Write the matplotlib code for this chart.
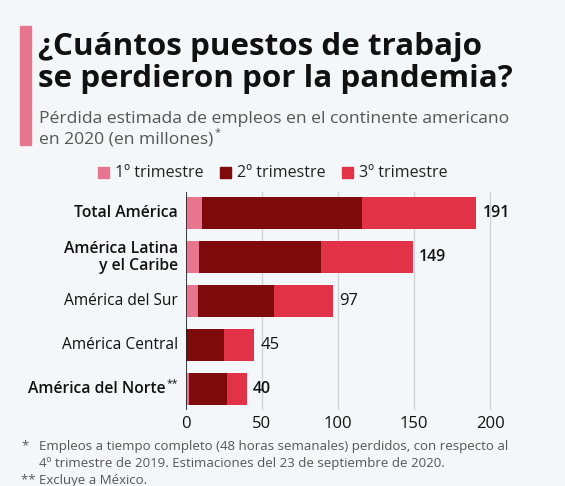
import numpy as np
import matplotlib.pyplot as plt
from matplotlib.patches import Rectangle
from matplotlib import transforms

# --- DATOS ---
regiones = ["Total América", "América Latina\ny el Caribe", "América del Sur",
            "América Central", "América del Norte"]
negrita = [True, True, False, False, True]
q1 = [11, 9, 8, 0.5, 2]
q2 = [105, 80, 50, 24.5, 25]
q3 = [75, 60, 39, 20, 13]
totales = [191, 149, 97, 45, 40]
series = ["1º trimestre", "2º trimestre", "3º trimestre"]
colores = ["#e8758e", "#7e0a0c", "#e23248"]
ticks_x = [0, 50, 100, 150, 200]

FONDO = "#f4f7fa"
GRIS = "#555555"
plt.rcParams['font.family'] = ['Open Sans', 'DejaVu Sans']

fig = plt.figure(figsize=(5.65, 4.86), dpi=100, facecolor=FONDO)
W, H = 565, 486

def fx(px):
    return px / W

def fy(py):
    return 1 - py / H

# barra rosa del título
fig.patches.append(Rectangle((fx(20), fy(145)), fx(11), 119 / H,
                             transform=fig.transFigure, color="#e8758e", zorder=1))

fig.text(fx(38), fy(55), "¿Cuántos puestos de trabajo", fontsize=22.6, fontweight='bold',
         color="#111111", va='baseline')
fig.text(fx(38), fy(87), "se perdieron por la pandemia?", fontsize=22.6, fontweight='bold',
         color="#111111", va='baseline')
fig.text(fx(39), fy(123), "Pérdida estimada de empleos en el continente americano",
         fontsize=12.6, color=GRIS, va='baseline')
sub2 = fig.text(fx(39), fy(144), "en 2020 (en millones)", fontsize=12.6, color=GRIS, va='baseline')
# asterisco pegado al final del subtítulo
fig.canvas.draw()
bb = sub2.get_window_extent()
fig.text((bb.x1 + 1) / W, fy(135), "*", fontsize=8, color=GRIS, va='baseline')

# leyenda manual
leg_x = [98, 220, 342]
for x0, nombre, c in zip(leg_x, series, colores):
    fig.patches.append(Rectangle((fx(x0), fy(178)), fx(11), 11 / H,
                                 transform=fig.transFigure, color=c))
    fig.text(fx(x0 + 17), fy(172.5), nombre, fontsize=11.5, color="#222222", va='center')

# --- GRÁFICO ---
ax = fig.add_axes([fx(185.7), fy(410), fx(513 - 185.7), (410 - 191.7) / H])
ax.set_facecolor(FONDO)
y = np.arange(len(regiones))
alto = 0.72
ax.barh(y, q1, height=alto, color=colores[0], zorder=3)
ax.barh(y, q2, left=q1, height=alto, color=colores[1], zorder=3)
ax.barh(y, q3, left=np.array(q1) + np.array(q2), height=alto, color=colores[2], zorder=3)

for i, tot in enumerate(totales):
    ax.text(tot + 4, i, f"{tot}", va='center', ha='left',
            fontsize=11.5 if negrita[i] else 12,
            fontweight='semibold' if negrita[i] else 'normal', color="#111111")

ax.set_xlim(0, 215)
ax.set_ylim(4.47, -0.49)
ax.set_xticks(ticks_x)
ax.set_xticklabels([str(v) for v in ticks_x], fontsize=12, color="#111111")
ax.tick_params(axis='x', length=0, pad=4)
ax.set_yticks([])
for s in ax.spines.values():
    s.set_visible(False)
ax.grid(axis='x', color="#cfd3d8", linewidth=1, zorder=0)
ax.axvline(0, color="#222222", linewidth=1.2, zorder=4)

# etiquetas de categoría
trans = transforms.blended_transform_factory(fig.transFigure, ax.transData)
for i, nombre in enumerate(regiones):
    peso = 'semibold' if negrita[i] else 'normal'
    tam = 11.3 if negrita[i] else 11.2
    if i == 4:
        ax.text(fx(166), i, nombre, transform=trans, ha='right', va='center',
                fontsize=tam, fontweight=peso, color="#111111")
        ax.text(fx(166.5), i - 0.12, "**", transform=trans, ha='left', va='center',
                fontsize=7.5, color="#111111")
    else:
        ax.text(fx(178), i, nombre, transform=trans, ha='right', va='center',
                fontsize=tam, fontweight=peso, color="#111111", linespacing=1.05)

# notas al pie
fig.text(fx(21), fy(446), "*", fontsize=9.5, color=GRIS, va='center')
fig.text(fx(39), fy(446), "Empleos a tiempo completo (48 horas semanales) perdidos, con respecto al",
         fontsize=9.5, color=GRIS, va='center')
fig.text(fx(39), fy(463), "4º trimestre de 2019. Estimaciones del 23 de septiembre de 2020.",
         fontsize=9.5, color=GRIS, va='center')
fig.text(fx(21), fy(480), "** Excluye a México.", fontsize=9.5, color=GRIS, va='center')

fig.savefig("out.png", dpi=100, facecolor=FONDO)
